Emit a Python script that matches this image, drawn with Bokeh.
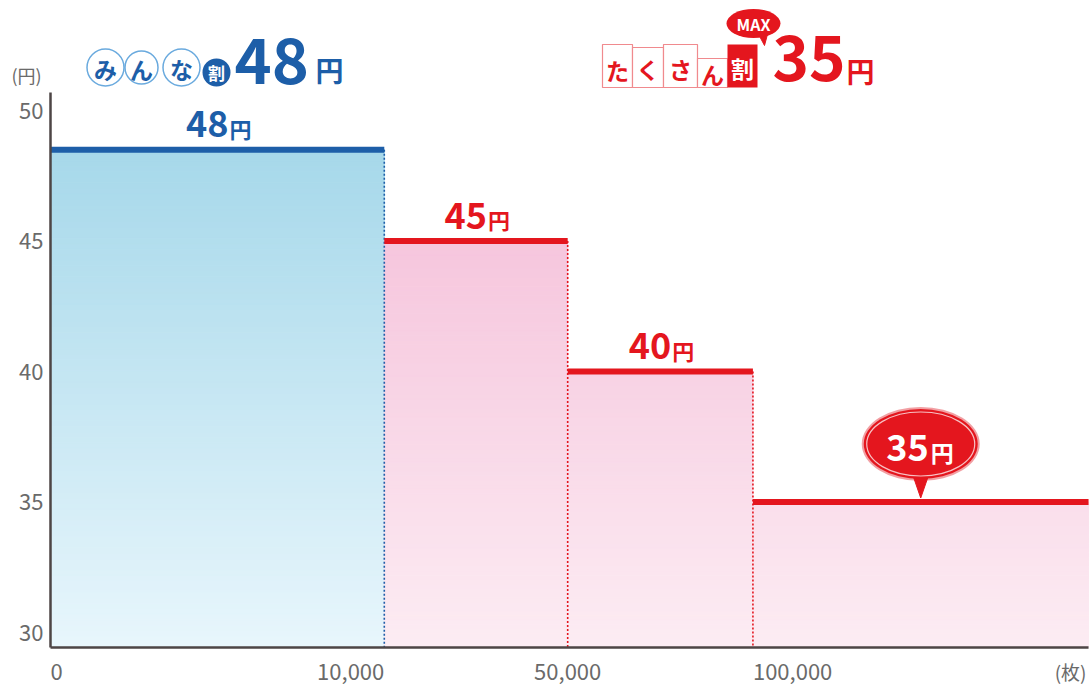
import numpy as np
from bokeh.plotting import figure
from bokeh.models import Range1d
from bokeh.core.properties import value
from bokeh.embed import file_html
from bokeh.resources import INLINE

# ---------------- data ----------------
tier_labels = ["0", "10,000", "50,000", "100,000"]
tier_widths = [1.82, 1.0, 1.01, 1.83]          # relative widths of the tiers on the x axis
price_labels = ["48", "45", "40", "35"]
price_levels = [48.5, 45.0, 40.0, 35.0]       # drawn heights
y_ticks = [30, 35, 40, 45, 50]
y_floor = 29.43
x_unit_label = "(枚)"
y_unit_label = "(円)"
yen = "円"
title_left_chars = ["み", "ん", "な"]
title_left_badge = "割"
title_left_price = "48"
title_right_chars = ["た", "く", "さ", "ん"]
title_right_badge = "割"
title_right_price = "35"
max_label = "MAX"

# ---------------- style ----------------
FONT = value("Noto Sans CJK JP")
BLUE = "#1d5ea8"
RED = "#e4161e"
AXIS = "#4d4545"
TICK = "#6a6a6a"
W, H = 1091, 684
KX, KY = 183.4, 26.1   # screen pixels per data unit


def xu(px):
    return (px - 50) / KX


def yv(py):
    return 50 - (py - 110) / KY


def lerp(c0, c1, t):
    return "#%02x%02x%02x" % tuple(int(round(a + (b - a) * t)) for a, b in zip(c0, c1))


edges = np.concatenate([[0.0], np.cumsum(tier_widths)])
seg_colors = [BLUE] + [RED] * (len(price_levels) - 1)

p = figure(width=W, height=H,
           x_range=Range1d(xu(0), xu(W)), y_range=Range1d(yv(H), yv(0)),
           x_axis_location=None, y_axis_location=None,
           output_backend="svg", toolbar_location=None, min_border=0)
p.outline_line_color = None
p.grid.visible = False
p.background_fill_color = "white"
p.border_fill_color = "white"

# ---------------- gradient fills ----------------
blue_top, blue_bot = (166, 216, 234), (232, 246, 252)
pink_top, pink_bot = (246, 198, 221), (252, 236, 243)
N = 90
L, R, B, T, C = [], [], [], [], []
for i, lev in enumerate(price_levels):
    if i == 0:
        top_ref, c_top, c_bot = price_levels[0], blue_top, blue_bot
    else:
        top_ref, c_top, c_bot = max(price_levels[1:]), pink_top, pink_bot
    bands = np.linspace(y_floor, top_ref, N + 1)
    for k in range(N):
        b, t = bands[k], bands[k + 1]
        if b >= lev:
            break
        L.append(edges[i]); R.append(edges[i + 1])
        B.append(b); T.append(min(t, lev))
        C.append(lerp(c_bot, c_top, (k + 0.5) / N))
p.quad(left=L, right=R, bottom=B, top=T, fill_color=C, line_color=C, line_width=1)

# ---------------- vertical dotted boundaries ----------------
for i in range(len(price_levels) - 1):
    p.segment(x0=[edges[i + 1]], y0=[price_levels[i]], x1=[edges[i + 1]], y1=[y_floor],
              line_color=seg_colors[i], line_width=1.6, line_dash="2 2")

# ---------------- step lines ----------------
p.segment(x0=edges[:-1], y0=price_levels, x1=edges[1:], y1=price_levels,
          line_color=seg_colors, line_width=6)

# ---------------- axes ----------------
p.segment(x0=[0], y0=[yv(92)], x1=[0], y1=[y_floor], line_color=AXIS, line_width=2.5)
p.segment(x0=[0], y0=[y_floor], x1=[edges[-1]], y1=[y_floor], line_color=AXIS, line_width=2.5)

p.text(x=[xu(43)] * len(y_ticks), y=y_ticks, text=[str(t) for t in y_ticks],
       text_font=FONT, text_font_size=value("22px"), text_color=TICK,
       text_align="right", text_baseline="middle")
p.text(x=[xu(11)], y=[yv(74)], text=[y_unit_label], text_font=FONT,
       text_font_size=value("18px"), text_color=TICK, text_align="left", text_baseline="middle")

aligns = ["left", "right", "center", "left"]
for e, lab, al in zip(edges[:-1], tier_labels, aligns):
    p.text(x=[e], y=[yv(671)], text=[lab], text_font=FONT, text_font_size=value("22px"),
           text_color=TICK, text_align=al, text_baseline="middle")
p.text(x=[xu(1086)], y=[yv(671)], text=[x_unit_label], text_font=FONT,
       text_font_size=value("19px"), text_color=TICK, text_align="right", text_baseline="middle")

# ---------------- segment labels ----------------
mids = (edges[:-1] + edges[1:]) / 2
for i in range(3):
    p.text(x=[mids[i]], y=[price_levels[i] + 26 / KY], text=[price_labels[i]], text_font=FONT,
           text_font_size=value("36px"), text_font_style="bold", text_color=seg_colors[i],
           text_align="right", text_baseline="middle", x_offset=11)
    p.text(x=[mids[i]], y=[price_levels[i] + 22 / KY], text=[yen], text_font=FONT,
           text_font_size=value("22px"), text_font_style="bold", text_color=seg_colors[i],
           text_align="left", text_baseline="middle", x_offset=12)

# bubble for the last tier
bx, lev = mids[3], price_levels[3]
by = lev + (502 - 444) / KY
p.ellipse(x=[bx], y=[by], width=118 / KX, height=74 / KY, fill_color="#f2a0a4", line_color=None)
p.patch(x=[bx - 9 / KX, bx + 9 / KX, bx], y=[by - 28 / KY, by - 28 / KY, lev + 4 / KY],
        fill_color=RED, line_color=RED, line_width=1)
p.ellipse(x=[bx], y=[by], width=114 / KX, height=70 / KY, fill_color=RED, line_color=None)
p.ellipse(x=[bx], y=[by], width=108 / KX, height=64 / KY, fill_color=None,
          line_color="#f7c0c3", line_width=1.2)
p.text(x=[bx], y=[by - 3 / KY], text=[price_labels[3]], text_font=FONT, text_font_size=value("36px"),
       text_font_style="bold", text_color="white", text_align="right", text_baseline="middle",
       x_offset=8)
p.text(x=[bx], y=[by - 8 / KY], text=[yen], text_font=FONT, text_font_size=value("23px"),
       text_font_style="bold", text_color="white", text_align="left", text_baseline="middle",
       x_offset=10)

# ---------------- left title ----------------
cx = [xu(105), xu(141), xu(181)]
p.scatter(x=cx, y=[yv(67)] * 3, size=[37, 33, 37], marker="circle",
          fill_color="white", line_color="#6aaade", line_width=1.5)
p.text(x=cx, y=[yv(68)] * 3, text=title_left_chars, text_font=FONT, text_font_size=value("23px"),
       text_font_style="bold", text_color=BLUE, text_align="center", text_baseline="middle")
p.scatter(x=[xu(216)], y=[yv(72)], size=28, marker="circle", fill_color=BLUE, line_color=None)
p.text(x=[xu(216)], y=[yv(72)], text=[title_left_badge], text_font=FONT, text_font_size=value("17px"),
       text_font_style="bold", text_color="white", text_align="center", text_baseline="middle")
p.text(x=[xu(234)], y=[yv(60)], text=[title_left_price], text_font=FONT, text_font_size=value("63px"),
       text_font_style="bold", text_color=BLUE, text_align="left", text_baseline="middle")
p.text(x=[xu(315)], y=[yv(69)], text=[yen], text_font=FONT, text_font_size=value("28px"),
       text_font_style="bold", text_color=BLUE, text_align="left", text_baseline="middle")

# ---------------- right title ----------------
bl = [602, 632, 663, 697]
br = [632, 663, 697, 727]
bt = [44, 47, 44, 58]
p.quad(left=[xu(v) for v in bl], right=[xu(v) for v in br], top=[yv(v) for v in bt],
       bottom=[yv(87)] * 4, fill_color="white", line_color="#f08a8e", line_width=1.2)
p.text(x=[xu((a + b) / 2) for a, b in zip(bl, br)], y=[yv(69), yv(68), yv(68), yv(73)],
       text=title_right_chars, text_font=FONT, text_font_size=value("23px"),
       text_font_style="bold", text_color=RED, text_align="center", text_baseline="middle")
p.quad(left=[xu(727)], right=[xu(757)], top=[yv(44)], bottom=[yv(87)], fill_color=RED, line_color=None)
p.text(x=[xu(742)], y=[yv(67)], text=[title_right_badge], text_font=FONT, text_font_size=value("23px"),
       text_font_style="bold", text_color="white", text_align="center", text_baseline="middle")
# MAX bubble
p.patch(x=[xu(756), xu(768), xu(764)], y=[yv(30), yv(30), yv(45)], fill_color=RED, line_color=RED)
p.ellipse(x=[xu(753)], y=[yv(23)], width=54 / KX, height=29 / KY, fill_color=RED, line_color=None)
p.text(x=[xu(753)], y=[yv(23)], text=[max_label], text_font=FONT, text_font_size=value("16px"),
       text_font_style="bold", text_color="white", text_align="center", text_baseline="middle")
p.text(x=[xu(772)], y=[yv(57)], text=[title_right_price], text_font=FONT, text_font_size=value("62px"),
       text_font_style="bold", text_color=RED, text_align="left", text_baseline="middle")
p.text(x=[xu(846)], y=[yv(70)], text=[yen], text_font=FONT, text_font_size=value("28px"),
       text_font_style="bold", text_color=RED, text_align="left", text_baseline="middle")

open("out.html", "w").write(file_html(p, INLINE))
